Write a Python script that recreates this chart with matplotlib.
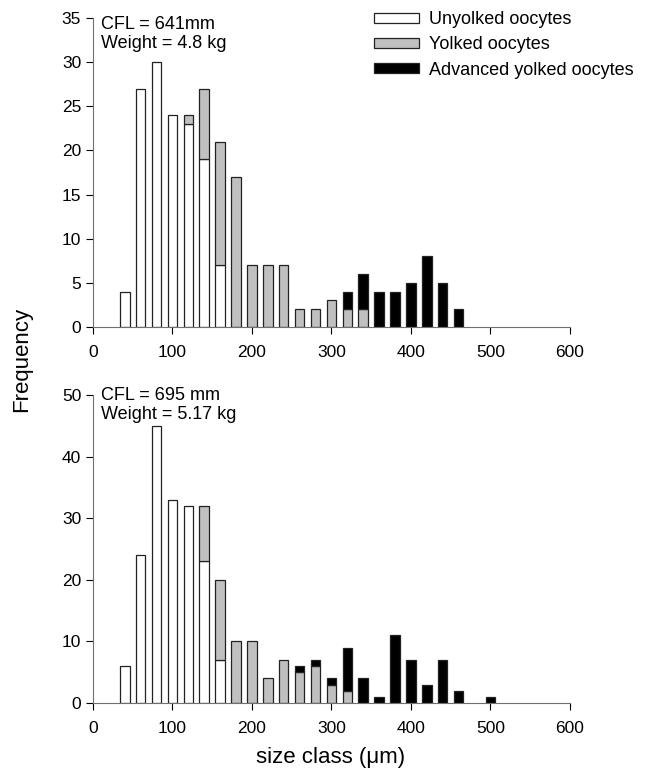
import numpy as np
import matplotlib.pyplot as plt

plt.rcParams['font.family'] = ['Liberation Sans', 'DejaVu Sans']

# size class midpoints (um)
size_class = np.arange(40, 520, 20)

# fish 1: CFL 641 mm
unyolked_1 = [4, 27, 30, 24, 23, 19, 7, 0, 0, 0, 0, 0, 0, 0, 0, 0, 0, 0, 0, 0, 0, 0, 0, 0]
yolked_1 = [0, 0, 0, 0, 1, 8, 14, 17, 7, 7, 7, 2, 2, 3, 2, 2, 0, 0, 0, 0, 0, 0, 0, 0]
advanced_1 = [0, 0, 0, 0, 0, 0, 0, 0, 0, 0, 0, 0, 0, 0, 2, 4, 4, 4, 5, 8, 5, 2, 0, 0]

# fish 2: CFL 695 mm
unyolked_2 = [6, 24, 45, 33, 32, 23, 7, 0, 0, 0, 0, 0, 0, 0, 0, 0, 0, 0, 0, 0, 0, 0, 0, 0]
yolked_2 = [0, 0, 0, 0, 0, 9, 13, 10, 10, 4, 7, 5, 6, 3, 2, 0, 0, 0, 0, 0, 0, 0, 0, 0]
advanced_2 = [0, 0, 0, 0, 0, 0, 0, 0, 0, 0, 0, 1, 1, 1, 7, 4, 1, 11, 7, 3, 7, 2, 0, 1]

fig = plt.figure(figsize=(6.49, 7.71), dpi=100)
ax1 = fig.add_axes([0.1433, 0.5759, 0.7347, 0.4008])
ax2 = fig.add_axes([0.1433, 0.0882, 0.7347, 0.3995])

edge = '#222222'
width = 12


def stacked(ax, u, y, a):
    u = np.array(u); y = np.array(y); a = np.array(a)
    hu = ax.bar(size_class[u > 0], u[u > 0], width, color='white',
                edgecolor=edge, linewidth=0.9, label='Unyolked oocytes')
    m = y > 0
    hy = ax.bar(size_class[m], y[m], width, bottom=u[m], color='#c0c0c0',
                edgecolor=edge, linewidth=0.9, label='Yolked oocytes')
    m = a > 0
    ha = ax.bar(size_class[m], a[m], width, bottom=(u + y)[m], color='black',
                edgecolor=edge, linewidth=0.9, label='Advanced yolked oocytes')
    return hu, hy, ha


handles = stacked(ax1, unyolked_1, yolked_1, advanced_1)
stacked(ax2, unyolked_2, yolked_2, advanced_2)

for ax, top, step in [(ax1, 35, 5), (ax2, 50, 10)]:
    ax.set_xlim(0, 600)
    ax.set_ylim(0, top)
    ax.set_xticks(range(0, 601, 100))
    ax.set_yticks(range(0, top + 1, step))
    ax.spines['top'].set_visible(False)
    ax.spines['right'].set_visible(False)
    ax.spines['left'].set_color('#707070')
    ax.spines['bottom'].set_color('#707070')
    ax.tick_params(direction='out', length=5, width=0.8, labelsize=12.5)
    ax.tick_params(axis='x', pad=8)

ax1.text(0.017, 1.005, 'CFL = 641mm\nWeight = 4.8 kg', transform=ax1.transAxes,
         ha='left', va='top', fontsize=13, linespacing=1.1)
ax2.text(0.017, 1.025, 'CFL = 695 mm\nWeight = 5.17 kg', transform=ax2.transAxes,
         ha='left', va='top', fontsize=13, linespacing=1.1)

ax1.legend(handles=handles, loc='upper left', bbox_to_anchor=(0.575, 1.045),
           frameon=False, fontsize=13, handlelength=2.45, handleheight=0.5,
           handletextpad=0.6, labelspacing=0.45, borderaxespad=0)

fig.text(0.034, 0.534, 'Frequency', rotation=90, ha='center', va='center', fontsize=16)
fig.text(0.51, 0.018, 'size class (\u03bcm)', ha='center', va='center', fontsize=16)

fig.savefig('out.png', dpi=100)
